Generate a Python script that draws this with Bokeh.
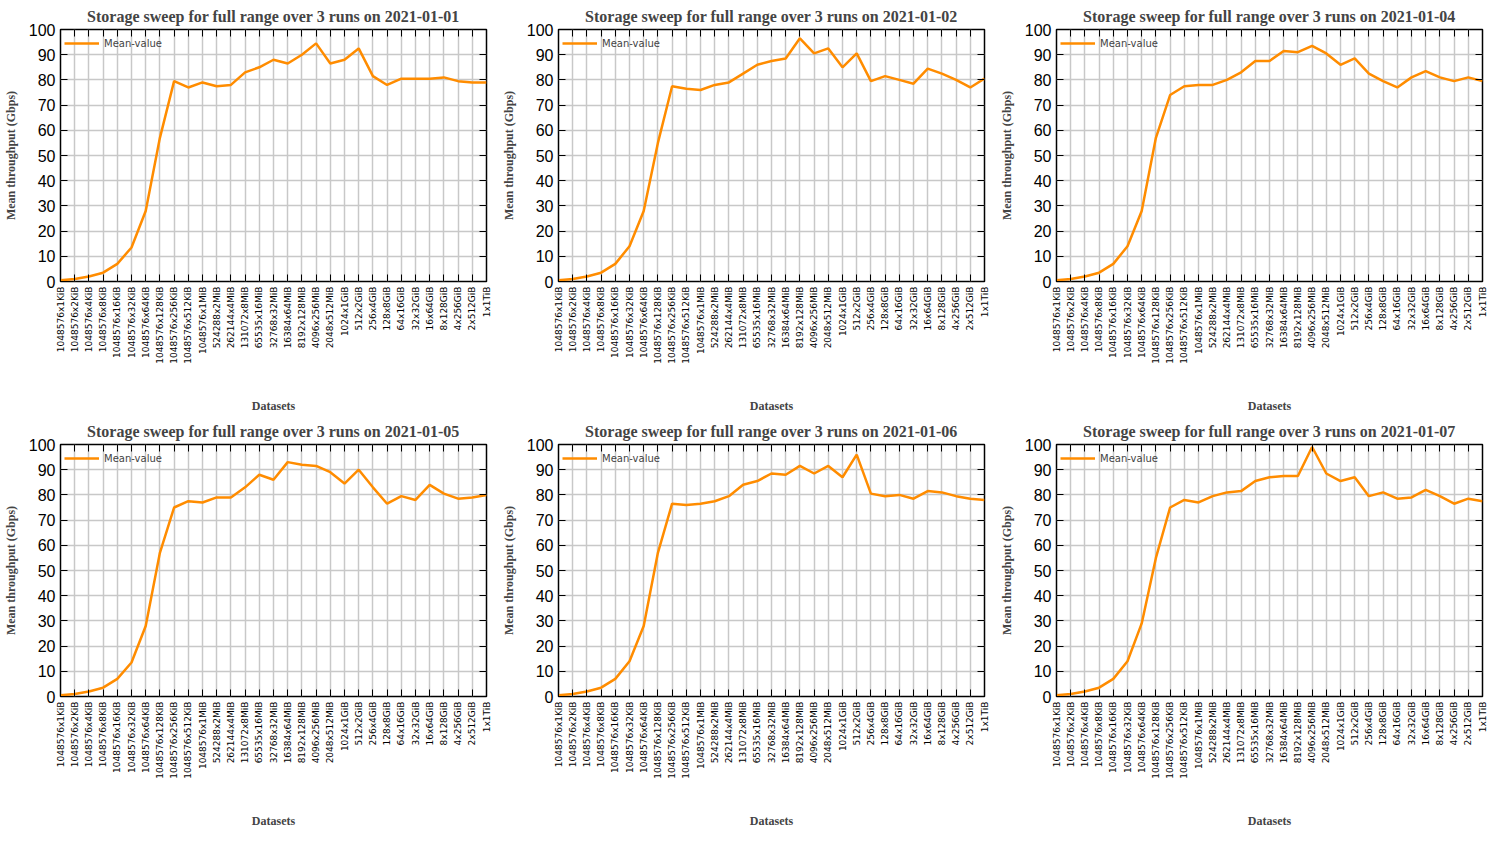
from bokeh.plotting import figure
from bokeh.models import Range1d, FixedTicker, LinearAxis
from bokeh.layouts import gridplot
from bokeh.embed import file_html
from bokeh.resources import INLINE

datasets = ["1048576x1KiB", "1048576x2KiB", "1048576x4KiB", "1048576x8KiB", "1048576x16KiB",
            "1048576x32KiB", "1048576x64KiB", "1048576x128KiB", "1048576x256KiB", "1048576x512KiB",
            "1048576x1MiB", "524288x2MiB", "262144x4MiB", "131072x8MiB", "65535x16MiB",
            "32768x32MiB", "16384x64MiB", "8192x128MiB", "4096x256MiB", "2048x512MiB",
            "1024x1GiB", "512x2GiB", "256x4GiB", "128x8GiB", "64x16GiB", "32x32GiB",
            "16x64GiB", "8x128GiB", "4x256GiB", "2x512GiB", "1x1TiB"]

dates = ["2021-01-01", "2021-01-02", "2021-01-04", "2021-01-05", "2021-01-06", "2021-01-07"]

run_0101 = [0.5, 1, 2, 3.5, 7, 13.5, 28, 57, 79.5, 77, 79, 77.5, 78, 83, 85, 88, 86.5, 90, 94.5,
            86.5, 88, 92.5, 81.5, 78, 80.5, 80.5, 80.5, 81, 79.5, 79, 79]
run_0102 = [0.5, 1, 2, 3.5, 7, 14, 28, 55, 77.5, 76.5, 76, 78, 79, 82.5, 86, 87.5, 88.5, 96.5, 90.5,
            92.5, 85, 90.5, 79.5, 81.5, 80, 78.5, 84.5, 82.5, 80, 77, 80.5]
run_0104 = [0.5, 1, 2, 3.5, 7, 14, 28, 57, 74, 77.5, 78, 78, 80, 83, 87.5, 87.5, 91.5, 91, 93.5,
            90.5, 86, 88.5, 82.5, 79.5, 77, 81, 83.5, 81, 79.5, 81, 79.5]
run_0105 = [0.5, 1, 2, 3.5, 7, 13.5, 28, 57, 75, 77.5, 77, 79, 79, 83, 88, 86, 93, 92, 91.5,
            89, 84.5, 90, 83, 76.5, 79.5, 78, 84, 80.5, 78.5, 79, 80]
run_0106 = [0.5, 1, 2, 3.5, 7, 14, 28, 57, 76.5, 76, 76.5, 77.5, 79.5, 84, 85.5, 88.5, 88, 91.5, 88.5,
            91.5, 87, 96, 80.5, 79.5, 80, 78.5, 81.5, 81, 79.5, 78.5, 78]
run_0107 = [0.5, 1, 2, 3.5, 7, 14, 29, 55, 75, 78, 77, 79.5, 81, 81.5, 85.5, 87, 87.5, 87.5, 99,
            88.5, 85.5, 87, 79.5, 81, 78.5, 79, 82, 79.5, 76.5, 78.5, 77.5]
runs = [run_0101, run_0102, run_0104, run_0105, run_0106, run_0107]

xs = list(range(len(datasets)))
yticks = list(range(0, 101, 10))


def make_plot(date, values):
    p = figure(width=498, height=415, output_backend="svg", toolbar_location=None,
               x_range=Range1d(0, len(datasets) - 1), y_range=Range1d(0, 100),
               title="Storage sweep for full range over 3 runs on " + date,
               min_border_left=10, min_border_right=12, min_border_top=22)
    p.title.align = "center"
    p.title.text_font = "Liberation Serif"
    p.title.text_font_size = "16px"
    p.title.text_font_style = "bold"
    p.outline_line_color = "black"
    p.outline_line_width = 1.5

    p.xaxis.ticker = FixedTicker(ticks=xs)
    p.xaxis.major_label_overrides = {i: d for i, d in enumerate(datasets)}
    p.xaxis.major_label_orientation = 1.5708
    p.xaxis.major_label_text_font = "DejaVu Sans"
    p.xaxis.major_label_text_font_size = "9px"
    p.yaxis.ticker = FixedTicker(ticks=yticks)
    p.yaxis.major_label_text_font = "Liberation Sans"
    p.yaxis.major_label_text_font_size = "16px"
    p.xaxis.axis_label = "Datasets"
    p.yaxis.axis_label = "Mean throughput (Gbps)"
    for ax in (p.xaxis, p.yaxis):
        ax.axis_label_text_font = "Liberation Serif"
        ax.axis_label_text_font_style = "bold"
        ax.axis_label_text_font_size = "12px"
        ax.major_tick_in = 7
        ax.major_tick_out = 0
        ax.minor_tick_line_color = None
        ax.axis_line_color = None
        ax.major_label_text_color = "black"
    p.xaxis.axis_label_standoff = 32
    p.yaxis.axis_label_standoff = 8

    top = LinearAxis(ticker=FixedTicker(ticks=xs), major_label_text_color=None,
                     major_tick_in=7, major_tick_out=0, axis_line_color=None,
                     minor_tick_line_color=None)
    right = LinearAxis(ticker=FixedTicker(ticks=yticks), major_label_text_color=None,
                       major_tick_in=7, major_tick_out=0, axis_line_color=None,
                       minor_tick_line_color=None)
    p.add_layout(top, "above")
    p.add_layout(right, "right")

    p.xgrid.ticker = FixedTicker(ticks=xs)
    p.xgrid.grid_line_color = "#c8c8c8"
    p.xgrid.grid_line_width = 1.5
    p.ygrid.grid_line_color = "#c8c8c8"
    p.ygrid.grid_line_width = 1.5

    p.line(xs, values, color="#ff8c00", line_width=2.5, legend_label="Mean-value")
    p.legend.location = "top_left"
    p.legend.background_fill_alpha = 0
    p.legend.border_line_color = None
    p.legend.label_text_font = "DejaVu Sans"
    p.legend.label_text_font_size = "10px"
    p.legend.glyph_width = 35
    p.legend.margin = 4
    p.legend.padding = 4
    return p


plots = [make_plot(d, v) for d, v in zip(dates, runs)]
grid = gridplot(plots, ncols=3, toolbar_location=None)

open("out.html", "w").write(file_html(grid, INLINE))
